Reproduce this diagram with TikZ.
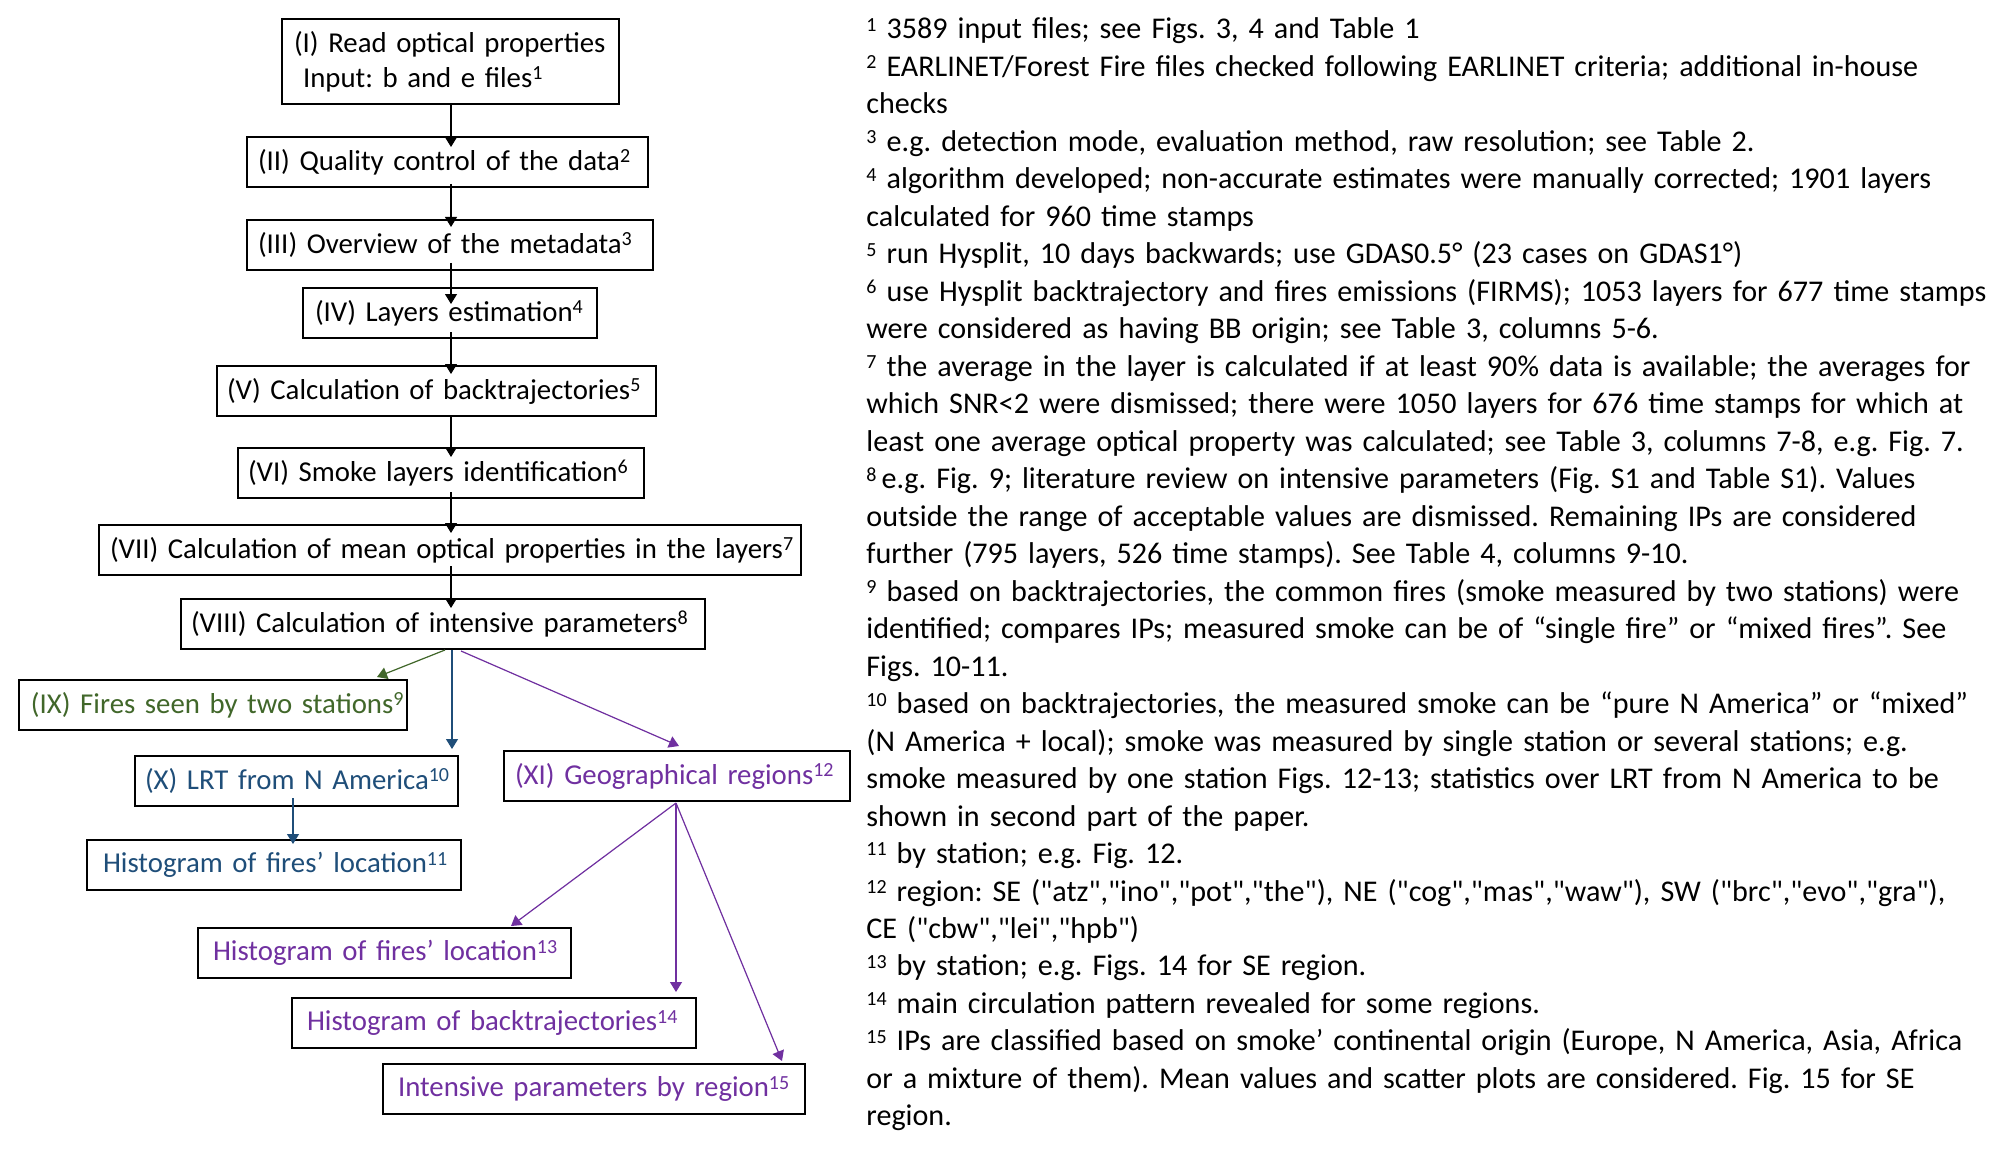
\documentclass[tikz,border=0pt]{standalone}
\usepackage{fontspec}
\newfontfamily\calib{Carlito}
\usetikzlibrary{calc,arrows.meta}
\definecolor{grn}{HTML}{41672A}
\definecolor{blu}{HTML}{1F4E79}
\definecolor{pur}{HTML}{7030A0}
\newcommand\sups[1]{\raisebox{3.8pt}{\fontsize{10}{10}\selectfont #1}}
\frenchspacing
\begin{document}
\begin{tikzpicture}[x=0.5pt,y=-0.5pt,
  every node/.style={font=\calib\fontsize{14.4}{17.5}\selectfont},
  box/.style={draw=black, line width=1pt, anchor=north west, align=left, minimum height=25pt, inner ysep=2pt},
  arr/.style={line width=0.6pt, -{Triangle[length=5pt,width=6pt]}},
  notes/.style={anchor=base west, align=left, text width=640pt, inner sep=0pt, font=\calib\fontsize{15.05}{18.74}\selectfont}
]
\useasboundingbox (0,0) rectangle (2001,1150);
\fill[white] (0,0) rectangle (2001,1150);
\coordinate (spine) at (451,0);

\node[box, text width=156.5pt, inner xsep=6pt, minimum height=42.5pt] (I) at (281,18)
  {\mbox{(I) Read optical properties}\\\mbox{\hspace*{4.5pt}Input: b and e files\sups{1}}};
\node[box, text width=189.5pt, inner xsep=5.5pt] (II) at (246,136) {\mbox{(II) Quality control of the data\sups{2}}};
\node[box, text width=192pt, inner xsep=5.5pt] (III) at (246,219) {\mbox{(III) Overview of the metadata\sups{3}}};
\node[box, text width=135pt, inner xsep=6pt] (IV) at (302,287) {\mbox{(IV) Layers estimation\sups{4}}};
\node[box, text width=209.5pt, inner xsep=5pt] (V) at (216,365) {\mbox{(V) Calculation of backtrajectories\sups{5}}};
\node[box, text width=193pt, inner xsep=5pt] (VI) at (237,447) {\mbox{(VI) Smoke layers identification\sups{6}}};
\node[box, text width=340pt, inner xsep=5.5pt] (VII) at (98,524) {\mbox{(VII) Calculation of mean optical properties in the layers\sups{7}}};
\node[box, text width=252pt, inner xsep=5pt] (VIII) at (180,598) {\mbox{(VIII) Calculation of intensive parameters\sups{8}}};
\node[box, text width=182pt, inner xsep=6pt, text=grn] (IX) at (18,679) {\mbox{(IX) Fires seen by two stations\sups{9}}};
\node[box, text width=151.5pt, inner xsep=5pt, text=blu] (X) at (134,755) {\mbox{(X) LRT from N America\sups{10}}};
\node[box, text width=162pt, inner xsep=5.5pt, text=pur] (XI) at (503,750) {\mbox{(XI) Geographical regions\sups{12}}};
\node[box, text width=171pt, inner xsep=8pt, text=blu] (H11) at (86,839) {\mbox{Histogram of fires’ location\sups{11}}};
\node[box, text width=171.5pt, inner xsep=7.5pt, text=pur] (H13) at (197,927) {\mbox{Histogram of fires’ location\sups{13}}};
\node[box, text width=187pt, inner xsep=7.5pt, text=pur] (HB) at (291,997) {\mbox{Histogram of backtrajectories\sups{14}}};
\node[box, text width=196pt, inner xsep=7.5pt, text=pur] (IP) at (382,1063) {\mbox{Intensive parameters by region\sups{15}}};

% main spine arrows
\draw[arr] (I.south -| spine) -- ($(II.north -| spine)+(0,11)$);
\draw[arr] ($(II.south -| spine)+(0,-4)$) -- ($(III.north -| spine)+(0,8)$);
\draw[arr] ($(III.south -| spine)+(0,-8)$) -- ($(IV.north -| spine)+(0,17)$);
\draw[arr] ($(IV.south -| spine)+(0,-7)$) -- ($(V.north -| spine)+(0,9)$);
\draw[arr] ($(V.south -| spine)+(0,-2)$) -- ($(VI.north -| spine)+(0,10)$);
\draw[arr] ($(VI.south -| spine)+(0,-7)$) -- ($(VII.north -| spine)+(0,9)$);
\draw[arr] ($(VII.south -| spine)+(0,-10)$) -- ($(VIII.north -| spine)+(0,10)$);

% branches
\draw[arr, draw=grn, fill=grn] ($(VIII.south -| spine)+(-6,0)$) -- ($(IX.north east)+(-31,-2)$);
\draw[arr, draw=blu, fill=blu] ($(VIII.south -| spine)+(1,0)$) -- ($(X.north -| spine)+(1,-6)$);
\draw[arr, draw=pur, fill=pur] ($(VIII.south -| spine)+(10,1)$) -- ($(XI.north west)+(176,-4)$);
\draw[arr, draw=blu, fill=blu] ($(X.south west)+(159,-9)$) -- ($(H11.north west)+(207,5)$);
\coordinate (src) at ($(XI.south west)+(173,1)$);
\draw[arr, draw=pur, fill=pur] (src) -- ($(H13.north west)+(314,-1)$);
\draw[arr, draw=pur, fill=pur] (src) -- ($(HB.north -| src)+(0,-5)$);
\draw[arr, draw=pur, fill=pur] (src) -- ($(IP.north west)+(400,-2)$);

\node[notes] (notes) at (866,39) {%
\sups{1} 3589 input files; see Figs. 3, 4 and Table 1\\
\sups{2} EARLINET/Forest Fire files checked following EARLINET criteria; additional in-house\\
checks\\
\sups{3} e.g. detection mode, evaluation method, raw resolution; see Table 2.\\
\sups{4} algorithm developed; non-accurate estimates were manually corrected; 1901 layers\\
calculated for 960 time stamps\\
\sups{5} run Hysplit, 10 days backwards; use GDAS0.5° (23 cases on GDAS1°)\\
\sups{6} use Hysplit backtrajectory and fires emissions (FIRMS); 1053 layers for 677 time stamps\\
were considered as having BB origin; see Table 3, columns 5-6.\\
\sups{7} the average in the layer is calculated if at least 90\% data is available; the averages for\\
which SNR<2 were dismissed; there were 1050 layers for 676 time stamps for which at\\
least one average optical property was calculated; see Table 3, columns 7-8, e.g. Fig. 7.\\
\sups{8}\,e.g. Fig. 9; literature review on intensive parameters (Fig. S1 and Table S1). Values\\
outside the range of acceptable values are dismissed. Remaining IPs are considered\\
further (795 layers, 526 time stamps). See Table 4, columns 9-10.\\
\sups{9} based on backtrajectories, the common fires (smoke measured by two stations) were\\
identified; compares IPs; measured smoke can be of “single fire” or “mixed fires”. See\\
Figs. 10-11.\\
\sups{10} based on backtrajectories, the measured smoke can be “pure N America” or “mixed”\\
(N America + local); smoke was measured by single station or several stations; e.g.\\
smoke measured by one station Figs. 12-13; statistics over LRT from N America to be\\
shown in second part of the paper.\\
\sups{11} by station; e.g. Fig. 12.\\
\sups{12} region: SE ("atz","ino","pot","the"), NE ("cog","mas","waw"), SW ("brc","evo","gra"),\\
CE ("cbw","lei","hpb")\\
\sups{13} by station; e.g. Figs. 14 for SE region.\\
\sups{14} main circulation pattern revealed for some regions.\\
\sups{15} IPs are classified based on smoke’ continental origin (Europe, N America, Asia, Africa\\
or a mixture of them). Mean values and scatter plots are considered. Fig. 15 for SE\\
region.};
\end{tikzpicture}
\end{document}
